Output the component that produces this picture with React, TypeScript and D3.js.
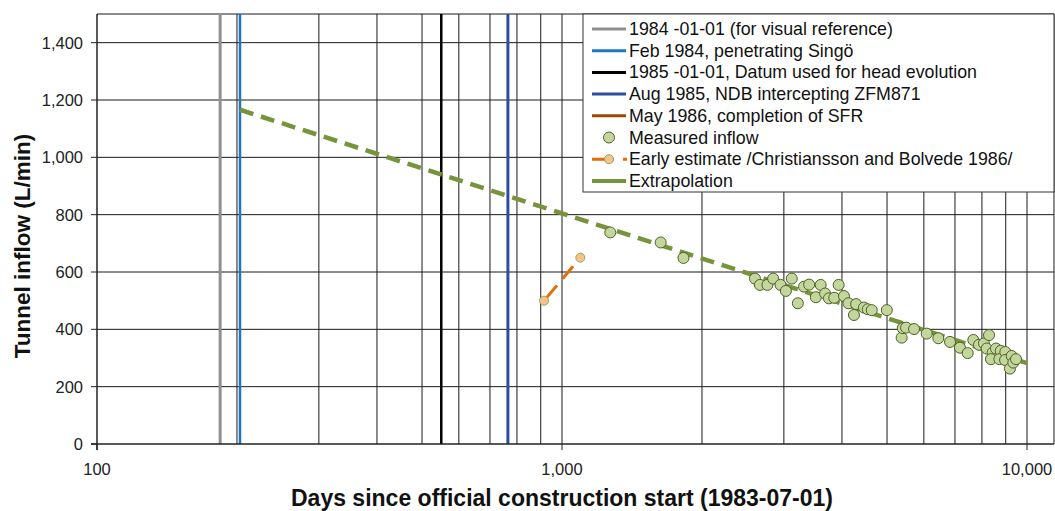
import React from 'react';
import * as d3 from 'd3';

// chart data
const xTickValues = [100, 1000, 10000];
const xMinorGrid = [200, 300, 400, 500, 600, 700, 800, 900, 2000, 3000, 4000, 5000, 6000, 7000, 8000, 9000];
const yTickValues = [0, 200, 400, 600, 800, 1000, 1200, 1400];

const eventDays = [184, 203, 550, 765];
const eventColors = ['#8f8f8f', '#1f75c0', '#000000', '#2f4d9c'];
const eventWidths = [3, 2.5, 2.5, 3];

const measuredDays = [
  1270, 1630, 1825, 2600, 2665, 2765, 2845, 2950, 3030, 3120, 3215, 3315, 3400, 3515, 3600, 3680,
  3750, 3850, 3935, 4040, 4130, 4245, 4290, 4460, 4545, 4635, 4995, 5375, 5405, 5495, 5715, 6085,
  6445, 6830, 7175, 7455, 7665, 7885, 8080, 8285, 8190, 8435, 8575, 8780, 8365, 8720, 8980, 8970,
  9270, 9190, 9345, 9470,
];
const measuredFlow = [
  738, 703, 649, 577, 555, 555, 577, 555, 534, 577, 491, 549, 556, 512, 555, 525,
  508, 510, 555, 516, 491, 450, 488, 476, 470, 467, 467, 371, 404, 406, 401, 385,
  369, 356, 336, 317, 363, 346, 351, 380, 333, 319, 333, 325, 296, 296, 321, 293,
  307, 263, 284, 296,
];

const earlyDays = [915, 1095];
const earlyFlow = [500, 650];

const extrapDays = [203, 10000];
const extrapFlow = [1166, 282];

const legendLabels = [
  '1984 -01-01 (for visual reference)',
  'Feb 1984, penetrating Singö',
  '1985 -01-01, Datum used for head evolution',
  'Aug 1985, NDB intercepting ZFM871',
  'May 1986, completion of SFR',
  'Measured inflow',
  'Early estimate /Christiansson and Bolvede 1986/',
  'Extrapolation',
];
const legendKinds = ['line', 'line', 'line', 'line', 'line', 'marker', 'estimate', 'extrap'];
const legendColors = ['#8f8f8f', '#1f75c0', '#000000', '#2f4d9c', '#984807', '', '#e46c0a', '#77933c'];

const FONT = '"Liberation Sans", Arial, sans-serif';
const GREEN = '#77933c';

export default function App() {
  const left = 97, right = 1054, top = 14, bottom = 444;

  const x = d3.scaleLog().domain([100, 11430]).range([left, right]);
  const y = d3.scaleLinear().domain([0, 1500]).range([bottom, top]);

  const line = d3.line<[number, number]>()
    .x(d => x(d[0]))
    .y(d => y(d[1]));

  const extrap = extrapDays.map((d, i) => [d, extrapFlow[i]] as [number, number]);
  const early = earlyDays.map((d, i) => [d, earlyFlow[i]] as [number, number]);
  const fmt = d3.format(',');

  const legX = 583, legY = 14, legW = 471, legH = 178, rowH = 21.7;

  return (
    <svg width={1055} height={511} style={{ position: 'absolute', left: 0, top: 0, display: 'block' }} fontFamily={FONT}>
      <rect x={0} y={0} width={1055} height={511} fill="#fff" />

      {/* grid */}
      {yTickValues.filter(v => v > 0).map(v => (
        <line key={'yg' + v} x1={left} x2={right} y1={y(v)} y2={y(v)} stroke="#1a1a1a" strokeWidth={1} />
      ))}
      {xMinorGrid.concat([1000, 10000]).map(v => (
        <line key={'xg' + v} x1={x(v)} x2={x(v)} y1={top} y2={bottom} stroke="#1a1a1a" strokeWidth={1} />
      ))}
      {/* frame */}
      <line x1={left} x2={right} y1={top} y2={top} stroke="#1a1a1a" strokeWidth={1} />
      <line x1={right} x2={right} y1={top} y2={bottom} stroke="#1a1a1a" strokeWidth={1} />

      {/* event lines */}
      {eventDays.map((d, i) => (
        <line key={'ev' + i} x1={x(d)} x2={x(d)} y1={top} y2={bottom} stroke={eventColors[i]} strokeWidth={eventWidths[i]} />
      ))}

      {/* axes */}
      <line x1={left} x2={left} y1={top} y2={bottom + 6} stroke="#222" strokeWidth={1.5} />
      <line x1={left - 6} x2={right} y1={bottom} y2={bottom} stroke="#222" strokeWidth={1.5} />
      {yTickValues.map(v => (
        <g key={'yt' + v}>
          <line x1={left - 6} x2={left} y1={y(v)} y2={y(v)} stroke="#222" strokeWidth={1} />
          <text x={83} y={y(v)} textAnchor="end" dominantBaseline="central" fontSize={16.5} fill="#222">{fmt(v)}</text>
        </g>
      ))}
      {xTickValues.map(v => (
        <g key={'xt' + v}>
          <line x1={x(v)} x2={x(v)} y1={bottom} y2={bottom + 6} stroke="#222" strokeWidth={1} />
          <text x={x(v)} y={469} textAnchor="middle" dominantBaseline="central" fontSize={16.5} fill="#222">{fmt(v)}</text>
        </g>
      ))}

      {/* extrapolation */}
      <path d={line(extrap) || ''} fill="none" stroke={GREEN} strokeWidth={4.5} strokeDasharray="14,8" />

      {/* early estimate */}
      <path d={line(early) || ''} fill="none" stroke="#e46c0a" strokeWidth={3} strokeDasharray="16,9" strokeDashoffset={-4} />
      {early.map((p, i) => (
        <circle key={'ee' + i} cx={x(p[0])} cy={y(p[1])} r={4.5} fill="#fac090" stroke="#8eaa4e" strokeWidth={1} />
      ))}

      {/* measured */}
      {measuredDays.map((d, i) => (
        <circle key={'m' + i} cx={x(d)} cy={y(measuredFlow[i])} r={5.5} fill="#c3d69b" stroke="#4f6228" strokeWidth={1} />
      ))}

      {/* legend */}
      <rect x={legX} y={legY} width={legW} height={legH} fill="#fff" stroke="#333" strokeWidth={1} />
      {legendLabels.map((lab, i) => {
        const cy = legY + 15 + i * rowH;
        const kind = legendKinds[i];
        return (
          <g key={'lg' + i}>
            {kind === 'line' && (
              <line x1={592} x2={626} y1={cy} y2={cy} stroke={legendColors[i]} strokeWidth={3} />
            )}
            {kind === 'marker' && (
              <circle cx={609} cy={cy} r={5.5} fill="#c3d69b" stroke="#4f6228" strokeWidth={1} />
            )}
            {kind === 'estimate' && (
              <g>
                <line x1={592} x2={627} y1={cy} y2={cy} stroke={legendColors[i]} strokeWidth={3} strokeDasharray="22,9" />
                <circle cx={609} cy={cy} r={4.5} fill="#fac090" stroke="#8eaa4e" strokeWidth={1} />
              </g>
            )}
            {kind === 'extrap' && (
              <line x1={592} x2={626} y1={cy} y2={cy} stroke={legendColors[i]} strokeWidth={4} />
            )}
            <text x={629} y={cy} dominantBaseline="central" fontSize={17.8} fill="#111">{lab}</text>
          </g>
        );
      })}

      {/* axis titles */}
      <text x={562} y={498} textAnchor="middle" dominantBaseline="central" fontSize={23} fontWeight="bold" fill="#111">
        Days since official construction start (1983-07-01)
      </text>
      <text transform="translate(22,246) rotate(-90)" textAnchor="middle" dominantBaseline="central" fontSize={22.5} fontWeight="bold" fill="#111">
        Tunnel inflow (L/min)
      </text>
    </svg>
  );
}
